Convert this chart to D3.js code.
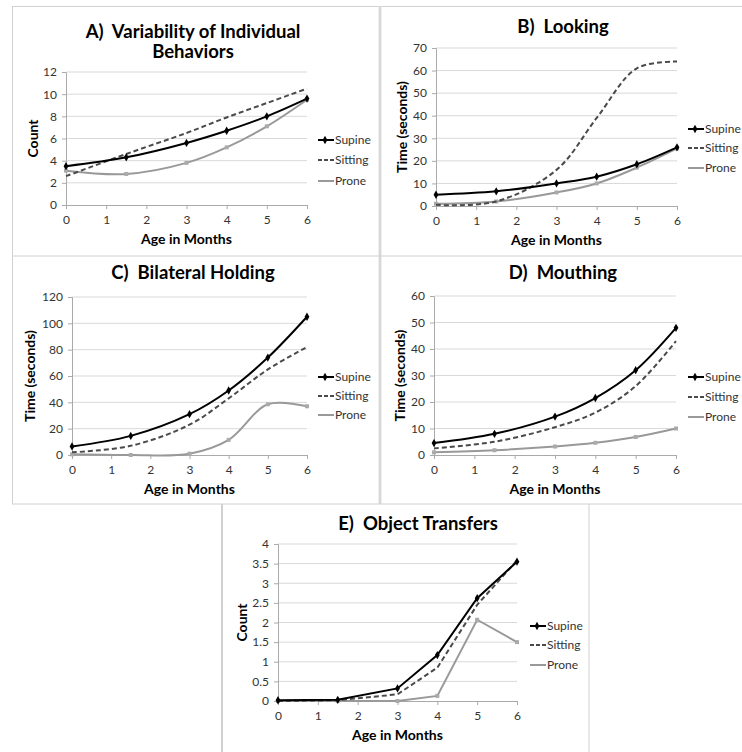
<!DOCTYPE html>
<html>
  <head>
    <script src="https://d3js.org/d3.v7.min.js"></script>
    <style>
      body { margin: 0; background: #fff; }
      svg text { font-family: Lato, "Open Sans", sans-serif; }
    </style>
  </head>
  <body>
    <svg id="chart" width="742" height="752"></svg>
    <script>
      // data
      const months = [0, 1.5, 3, 4, 5, 6];
      const seriesNames = ["Supine", "Sitting", "Prone"];
      const xTicks = [0, 1, 2, 3, 4, 5, 6];

      const aSupine = [3.5, 4.3, 5.6, 6.7, 8.0, 9.6];
      const aSitting = [2.6, 4.6, 6.5, 7.9, 9.2, 10.5];
      const aProne = [3.1, 2.8, 3.8, 5.2, 7.1, 9.5];
      const aTicks = [0, 2, 4, 6, 8, 10, 12];

      const bSupine = [5, 6.5, 10, 13, 18.5, 26];
      const bSitting = [0.5, 2, 16, 39, 61, 64];
      const bProne = [1, 2, 6, 10, 17, 25.5];
      const bTicks = [0, 10, 20, 30, 40, 50, 60, 70];

      const cSupine = [6.5, 14.5, 31, 49, 74, 105];
      const cSitting = [2, 7, 23, 43, 65, 82];
      const cProne = [0.5, 0, 1, 11.5, 38.5, 37];
      const cTicks = [0, 20, 40, 60, 80, 100, 120];

      const dSupine = [4.5, 8, 14.5, 21.5, 32, 48];
      const dSitting = [2.5, 5, 10.5, 16, 26, 43];
      const dProne = [1, 1.8, 3.2, 4.6, 6.8, 10];
      const dTicks = [0, 10, 20, 30, 40, 50, 60];

      const eSupine = [0.02, 0.03, 0.32, 1.17, 2.62, 3.55];
      const eSitting = [0, 0.02, 0.17, 0.85, 2.45, 3.58];
      const eProne = [0, 0, 0, 0.13, 2.07, 1.5];
      const eTicks = [0, 0.5, 1, 1.5, 2, 2.5, 3, 3.5, 4];

      const svg = d3.select("#chart");

      // panel frame lines
      const frame = svg.append("g").attr("stroke", "#d0d0d0").attr("fill", "none");
      frame.append("line").attr("x1", 12).attr("x2", 742).attr("y1", 6.5).attr("y2", 6.5);
      frame.append("line").attr("x1", 12.5).attr("x2", 12.5).attr("y1", 6).attr("y2", 504);
      frame.append("line").attr("x1", 380).attr("x2", 380).attr("y1", 6).attr("y2", 504)
        .attr("stroke-width", 3).attr("stroke", "#e0e0e0");
      frame.append("line").attr("x1", 380).attr("x2", 380).attr("y1", 6).attr("y2", 504);
      frame.append("line").attr("x1", 12).attr("x2", 742).attr("y1", 256).attr("y2", 256);
      frame.append("line").attr("x1", 12).attr("x2", 742).attr("y1", 504).attr("y2", 504);
      frame.append("line").attr("x1", 222).attr("x2", 222).attr("y1", 504).attr("y2", 752)
        .attr("stroke-width", 2);
      frame.append("line").attr("x1", 589).attr("x2", 589).attr("y1", 504).attr("y2", 752);

      const styles = {
        Supine: { color: "#000", dash: null, width: 2 },
        Sitting: { color: "#4a4a4a", dash: "5,3", width: 2 },
        Prone: { color: "#999", dash: null, width: 2 }
      };

      const fmt = d3.format("");

      function drawPanel(p) {
        const g = svg.append("g");
        const x = d3.scaleLinear().domain([0, 6]).range([p.left, p.right]);
        const y = d3.scaleLinear().domain([p.ticks[0], p.ticks[p.ticks.length - 1]]).range([p.bottom, p.top]);

        // title
        p.title.forEach((t, i) => {
          g.append("text")
            .attr("x", p.titleX).attr("y", p.titleY + i * 20)
            .attr("text-anchor", "middle")
            .style("font-size", "18.5px").style("font-weight", "bold")
            .style("white-space", "pre")
            .attr("fill", "#000")
            .text(t);
        });

        // gridlines
        g.append("g").selectAll("line")
          .data(p.ticks.slice(1))
          .join("line")
          .attr("x1", p.left).attr("x2", p.right)
          .attr("y1", d => y(d)).attr("y2", d => y(d))
          .attr("stroke", "#d9d9d9");

        // y axis
        const ya = g.append("g")
          .attr("transform", `translate(${p.left},0)`)
          .call(d3.axisLeft(y).tickValues(p.ticks).tickFormat(fmt).tickSize(4).tickPadding(5));
        ya.select(".domain").attr("stroke", "#aaa");
        ya.selectAll(".tick line").attr("stroke", "#aaa");
        ya.selectAll("text").style("font-size", "12px").attr("fill", "#333").style("font-family", "Lato, sans-serif");

        // x axis
        const xa = g.append("g")
          .attr("transform", `translate(0,${p.bottom})`)
          .call(d3.axisBottom(x).tickValues(xTicks).tickFormat(fmt).tickSize(4).tickPadding(6));
        xa.select(".domain").attr("stroke", "#aaa");
        xa.selectAll(".tick line").attr("stroke", "#aaa");
        xa.selectAll("text").style("font-size", "12px").attr("fill", "#333").style("font-family", "Lato, sans-serif");

        // axis titles
        g.append("text")
          .attr("transform", `translate(${p.yLabelX},${(p.top + p.bottom) / 2}) rotate(-90)`)
          .attr("text-anchor", "middle").attr("dy", "0.35em")
          .style("font-size", "14px").style("font-weight", "bold")
          .text(p.yLabel);
        g.append("text")
          .attr("x", (p.left + p.right) / 2).attr("y", p.bottom + 39)
          .attr("text-anchor", "middle")
          .style("font-size", "14px").style("font-weight", "bold")
          .text("Age in Months");

        // lines
        const line = d3.line()
          .x(d => x(d[0])).y(d => y(d[1]))
          .curve(p.smooth ? d3.curveCatmullRom.alpha(0.5) : d3.curveLinear);

        // draw prone, sitting, then supine on top
        [2, 1, 0].forEach(k => {
          const name = seriesNames[k];
          const s = styles[name];
          const pts = months.map((m, i) => [m, p.series[k][i]]);
          g.append("path")
            .datum(pts)
            .attr("fill", "none")
            .attr("stroke", s.color)
            .attr("stroke-width", s.width)
            .attr("stroke-dasharray", s.dash)
            .attr("d", line);
          if (name === "Supine") {
            g.append("g").selectAll("path")
              .data(pts).join("path")
              .attr("transform", d => `translate(${x(d[0])},${y(d[1])})`)
              .attr("d", d3.symbol(d3.symbolDiamond, 20))
              .attr("fill", "#000");
          }
          if (name === "Prone") {
            g.append("g").selectAll("rect")
              .data(pts).join("rect")
              .attr("x", d => x(d[0]) - 2).attr("y", d => y(d[1]) - 2)
              .attr("width", 4).attr("height", 4)
              .attr("fill", "#aaa");
          }
        });

        // legend
        seriesNames.forEach((name, i) => {
          const s = styles[name];
          const ly = p.legendY[i];
          g.append("line")
            .attr("x1", p.legendX).attr("x2", p.legendX + 16)
            .attr("y1", ly).attr("y2", ly)
            .attr("stroke", s.color).attr("stroke-width", s.width)
            .attr("stroke-dasharray", s.dash ? "4,2" : null);
          if (name === "Supine") {
            g.append("path")
              .attr("transform", `translate(${p.legendX + 7},${ly})`)
              .attr("d", d3.symbol(d3.symbolDiamond, 20))
              .attr("fill", "#000");
          }
          g.append("text")
            .attr("x", p.legendX + 17).attr("y", ly).attr("dy", "0.35em")
            .style("font-size", "12px").attr("fill", "#333")
            .text(name);
        });
      }

      drawPanel({
        title: ["A)  Variability of Individual", "Behaviors"], titleX: 193, titleY: 38,
        left: 66, right: 307, top: 72, bottom: 205, ticks: aTicks, yLabel: "Count", yLabelX: 33,
        legendX: 318, legendY: [140, 160, 181], smooth: true,
        series: [aSupine, aSitting, aProne]
      });
      drawPanel({
        title: ["B)  Looking"], titleX: 563, titleY: 33,
        left: 436, right: 677, top: 48, bottom: 206, ticks: bTicks, yLabel: "Time (seconds)", yLabelX: 402,
        legendX: 688, legendY: [129, 148, 168], smooth: true,
        series: [bSupine, bSitting, bProne]
      });
      drawPanel({
        title: ["C)  Bilateral Holding"], titleX: 193, titleY: 279,
        left: 72, right: 307, top: 297, bottom: 455, ticks: cTicks, yLabel: "Time (seconds)", yLabelX: 30,
        legendX: 318, legendY: [377, 396, 415], smooth: true,
        series: [cSupine, cSitting, cProne]
      });
      drawPanel({
        title: ["D)  Mouthing"], titleX: 563, titleY: 279,
        left: 434, right: 676, top: 296, bottom: 455, ticks: dTicks, yLabel: "Time (seconds)", yLabelX: 400,
        legendX: 688, legendY: [377, 397, 417], smooth: true,
        series: [dSupine, dSitting, dProne]
      });
      drawPanel({
        title: ["E)  Object Transfers"], titleX: 418, titleY: 530,
        left: 278, right: 517, top: 544, bottom: 701, ticks: eTicks, yLabel: "Count", yLabelX: 242,
        legendX: 530, legendY: [626, 645, 665], smooth: false,
        series: [eSupine, eSitting, eProne]
      });
    </script>
  </body>
</html>
